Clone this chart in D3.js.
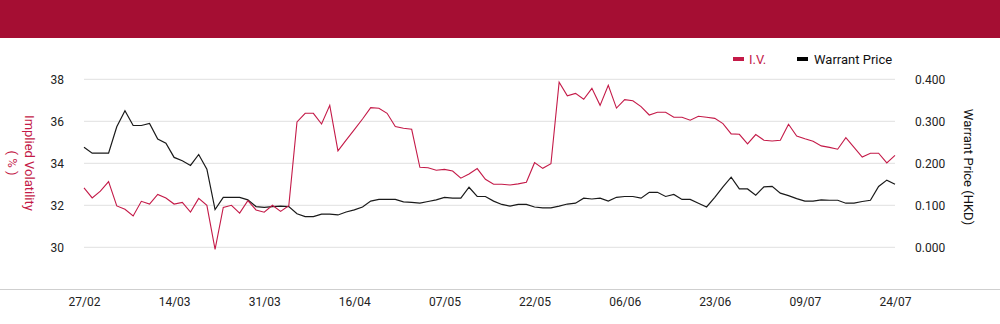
<!DOCTYPE html>
<meta charset="utf-8">
<script src="https://d3js.org/d3.v7.min.js"></script>
<style>
  body { margin: 0; background: #fff; }
  text { font-family: Roboto, "Open Sans", sans-serif; }
</style>
<div id="my_dataviz"></div>
<script>
// Trading days (categories)
var dates = ["27/02","28/02","03/03","04/03","05/03","06/03","07/03","10/03","11/03","12/03",
  "13/03","14/03","17/03","18/03","19/03","20/03","21/03","24/03","25/03","26/03",
  "27/03","28/03","31/03","01/04","02/04","03/04","07/04","08/04","09/04","10/04",
  "11/04","14/04","15/04","16/04","17/04","22/04","23/04","24/04","25/04","28/04",
  "29/04","30/04","02/05","06/05","07/05","08/05","09/05","12/05","13/05","14/05",
  "15/05","16/05","19/05","20/05","21/05","22/05","23/05","26/05","27/05","28/05",
  "29/05","30/05","02/06","03/06","04/06","05/06","06/06","09/06","10/06","11/06",
  "12/06","13/06","16/06","17/06","18/06","19/06","20/06","23/06","24/06","25/06",
  "26/06","27/06","30/06","02/07","03/07","04/07","07/07","08/07","09/07","10/07",
  "11/07","14/07","15/07","16/07","17/07","18/07","21/07","22/07","23/07","24/07"];

// Implied volatility (%)
var iv = [32.83,32.35,32.67,33.13,31.97,31.81,31.49,32.19,32.06,32.52,
  32.35,32.06,32.14,31.68,32.33,32.00,29.90,31.90,32.00,31.63,
  32.22,31.78,31.67,32.00,31.71,31.98,35.97,36.38,36.38,35.87,
  36.76,34.59,35.10,35.60,36.11,36.65,36.62,36.38,35.75,35.67,
  35.62,33.81,33.79,33.67,33.71,33.63,33.29,33.49,33.75,33.24,
  33.00,33.00,32.97,33.02,33.10,34.03,33.76,33.98,37.86,37.21,
  37.33,37.05,37.57,36.76,37.71,36.63,37.03,36.98,36.70,36.30,
  36.43,36.43,36.19,36.19,36.05,36.24,36.19,36.14,35.89,35.40,
  35.38,34.92,35.37,35.10,35.06,35.10,35.86,35.30,35.17,35.05,
  34.83,34.76,34.67,35.22,34.76,34.30,34.48,34.48,34.02,34.38];

// Warrant price (HKD)
var price = [0.238,0.224,0.224,0.224,0.287,0.325,0.290,0.290,0.295,0.258,
  0.248,0.214,0.206,0.195,0.221,0.186,0.090,0.119,0.119,0.119,
  0.113,0.097,0.095,0.097,0.098,0.097,0.080,0.073,0.073,0.079,
  0.079,0.077,0.084,0.089,0.096,0.110,0.114,0.114,0.114,0.108,
  0.107,0.105,0.109,0.113,0.119,0.117,0.117,0.143,0.121,0.121,
  0.110,0.102,0.098,0.102,0.102,0.096,0.094,0.094,0.098,0.103,
  0.105,0.117,0.115,0.117,0.110,0.119,0.121,0.121,0.117,0.131,
  0.131,0.121,0.126,0.114,0.114,0.105,0.096,0.119,0.144,0.167,
  0.139,0.139,0.124,0.144,0.145,0.129,0.123,0.116,0.110,0.110,
  0.113,0.112,0.112,0.105,0.105,0.109,0.112,0.145,0.160,0.150];

var ivTicks = [30, 32, 34, 36, 38];
var priceTicks = [0, 0.1, 0.2, 0.3, 0.4];
var xLabels = dates.filter(function(d, i) { return i % 11 === 0; });

var W = 1000, H = 324;
var red = "#c41a48", dark = "#1a1a1a";

var svg = d3.select("#my_dataviz").append("svg")
  .attr("width", W).attr("height", H);

// header band
svg.append("rect").attr("x", 0).attr("y", 0).attr("width", W).attr("height", 38)
  .attr("fill", "#a50e33");

var x = d3.scalePoint().domain(dates).range([84, 895]);
var yL = d3.scaleLinear().domain([30, 38]).range([247.3, 79.3]);
var yR = d3.scaleLinear().domain([0, 0.4]).range([247.3, 79.3]);

// gridlines
svg.append("g").selectAll("line").data(ivTicks).enter().append("line")
  .attr("x1", 84).attr("x2", 895)
  .attr("y1", function(d) { return yL(d); }).attr("y2", function(d) { return yL(d); })
  .attr("stroke", "#e0e0e0").attr("stroke-width", 1);

// bottom rule
svg.append("line").attr("x1", 0).attr("x2", W).attr("y1", 289.5).attr("y2", 289.5)
  .attr("stroke", "#cfcfcf");

// left axis
var left = svg.append("g").attr("transform", "translate(64,0)")
  .call(d3.axisLeft(yL).tickValues(ivTicks).tickSize(0).tickPadding(0));
left.select(".domain").remove();
left.selectAll("text").attr("font-size", 12).attr("fill", "#222")
  .attr("font-family", "Roboto, sans-serif");

// right axis
var right = svg.append("g").attr("transform", "translate(915,0)")
  .call(d3.axisRight(yR).tickValues(priceTicks).tickSize(0).tickPadding(0)
    .tickFormat(d3.format(".3f")));
right.select(".domain").remove();
right.selectAll("text").attr("font-size", 12).attr("fill", "#222")
  .attr("font-family", "Roboto, sans-serif");

// x axis labels
var bottom = svg.append("g").attr("transform", "translate(0,297)")
  .call(d3.axisBottom(x).tickValues(xLabels).tickSize(0).tickPadding(0));
bottom.select(".domain").remove();
bottom.selectAll("text").attr("font-size", 12).attr("fill", "#222")
  .attr("font-family", "Roboto, sans-serif");

// axis titles
var lt = svg.append("text").attr("transform", "translate(25,163) rotate(90)")
  .attr("text-anchor", "middle").attr("fill", red).attr("font-size", 13);
lt.append("tspan").attr("x", 0).attr("dy", 0).text("Implied Volatility");
lt.append("tspan").attr("x", 0).attr("dy", 17).text("( % )");

svg.append("text").attr("transform", "translate(964,167) rotate(90)")
  .attr("text-anchor", "middle").attr("fill", "#111").attr("font-size", 13)
  .text("Warrant Price (HKD)");

// lines
var ivLine = d3.line().x(function(d, i) { return x(dates[i]); }).y(function(d) { return yL(d); });
var pLine = d3.line().x(function(d, i) { return x(dates[i]); }).y(function(d) { return yR(d); });

svg.append("path").datum(price).attr("d", pLine)
  .attr("fill", "none").attr("stroke", dark).attr("stroke-width", 1.2);
svg.append("path").datum(iv).attr("d", ivLine)
  .attr("fill", "none").attr("stroke", red).attr("stroke-width", 1.1);

// legend
var legend = svg.append("g");
legend.append("rect").attr("x", 733).attr("y", 57).attr("width", 11).attr("height", 4).attr("fill", red);
legend.append("text").attr("x", 749).attr("y", 63.5).attr("fill", red).attr("font-size", 13)
  .attr("font-family", "'Liberation Serif', serif").text("I.V.");
legend.append("rect").attr("x", 797).attr("y", 57).attr("width", 11).attr("height", 4).attr("fill", "#000");
legend.append("text").attr("x", 814).attr("y", 63.5).attr("fill", "#111").attr("font-size", 13)
  .text("Warrant Price");
</script>
